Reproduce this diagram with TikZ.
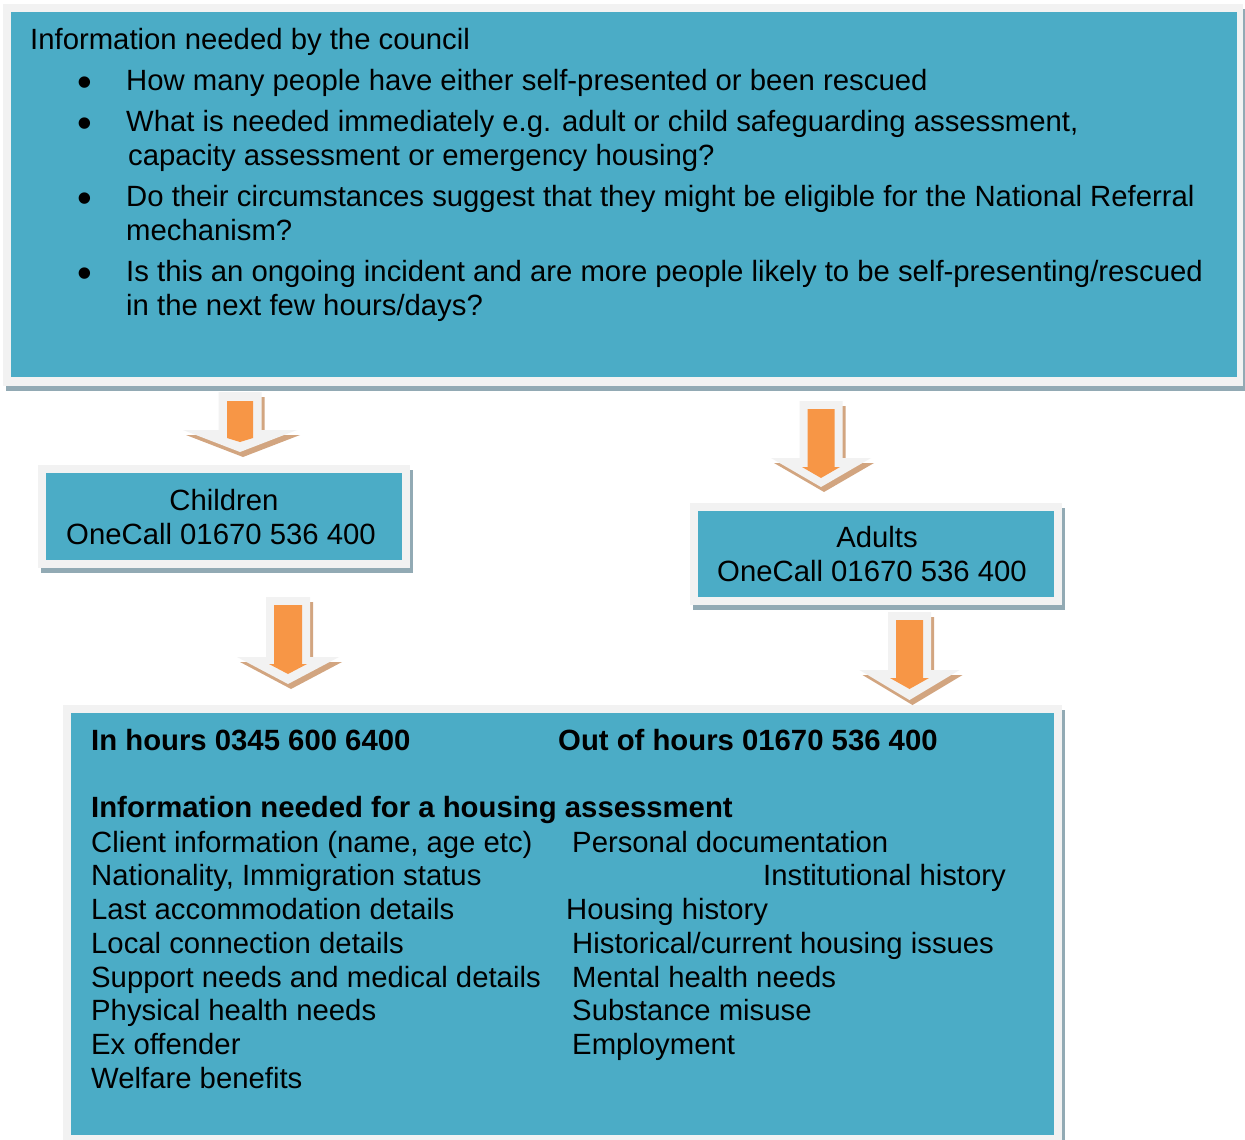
\documentclass[tikz,border=0pt]{standalone}
\usepackage{fontspec}
\setmainfont{Liberation Sans}
\definecolor{panelteal}{RGB}{75,172,198}
\definecolor{framegray}{RGB}{242,242,242}
\definecolor{shadowblue}{RGB}{146,170,180}
\definecolor{arroworange}{RGB}{247,150,70}
\definecolor{arrowtan}{RGB}{210,165,128}
\tikzset{
  txt/.style={anchor=base west, inner sep=0pt, font=\fontsize{29.3}{34}\selectfont},
  bul/.style={anchor=base west, inner sep=0pt, font=\fontsize{42}{42}\selectfont},
  btxt/.style={anchor=base west, inner sep=0pt, font=\fontsize{29.3}{34}\selectfont\bfseries},
  ctxt/.style={anchor=base, inner sep=0pt, font=\fontsize{29.3}{34}\selectfont},
  panel/.style={fill=panelteal, draw=none, inner sep=0pt, anchor=north west},
  boxshadow/.style={fill=shadowblue},
  boxframe/.style={fill=framegray},
  arrshadow/.style={fill=arrowtan},
  arrbody/.style={fill=framegray},
  arrcore/.style={fill=arroworange},
}
\begin{document}
\begin{tikzpicture}[x=1pt,y=-1pt]
\useasboundingbox[fill=white] (0,0) rectangle (1245,1140);

% ---------- top panel ----------
\path[boxshadow] (6,9) rectangle (1245,391);
\path[boxframe] (3,4) rectangle (1243,386);
\node[panel, minimum width=1226pt, minimum height=365pt] (council) at (11,12) {};
\node[txt] (t0) at (30,49) {Information needed by the council};
\node[bul] (b1) at (77.7,96) {•};
\node[txt] (t1) at (126,90) {How many people have either self-presented or been rescued};
\node[bul] (b2) at (77.7,137) {•};
\node[txt] (t2) at (126,131) {What is needed immediately e.g. adult or child safeguarding assessment,};
\node[txt] (t2b) at (128,165) {capacity assessment or emergency housing?};
\node[bul] (b3) at (77.7,212) {•};
\node[txt] (t3) at (126,206) {Do their circumstances suggest that they might be eligible for the National Referral};
\node[txt] (t3b) at (126,240) {mechanism?};
\node[bul] (b4) at (77.7,287) {•};
\node[txt] (t4) at (126,281) {Is this an ongoing incident and are more people likely to be self-presenting/rescued};
\node[txt] (t4b) at (126,315) {in the next few hours/days?};

% ---------- children panel ----------
\path[boxshadow] (41,470) rectangle (413,573);
\path[boxframe] (38,465) rectangle (410,568);
\node[panel, minimum width=356pt, minimum height=87pt] (children) at (46,473) {};
\node[ctxt] (c1) at (224,510) {Children};
\node[ctxt] (c2) at (221,544) {OneCall 01670 536 400};

% ---------- adults panel ----------
\path[boxshadow] (693,508) rectangle (1065,610);
\path[boxframe] (690,503) rectangle (1062,605);
\node[panel, minimum width=356pt, minimum height=86pt] (adults) at (698,511) {};
\node[ctxt] (a1) at (877,547) {Adults};
\node[ctxt] (a2) at (872,581) {OneCall 01670 536 400};

% ---------- housing panel ----------
\path[boxshadow] (66,710) rectangle (1065,1145);
\path[boxframe] (63,705) rectangle (1062,1140);
\node[panel, minimum width=983pt, minimum height=422pt] (housing) at (71,713) {};
\node[btxt] (h1) at (91,750) {In hours 0345 600 6400};
\node[btxt] (h2) at (558,750) {Out of hours 01670 536 400};
\node[btxt] (h3) at (91,817) {Information needed for a housing assessment};
\node[txt] (l1) at (91,852) {Client information (name, age etc)};
\node[txt] (l2) at (91,885) {Nationality, Immigration status};
\node[txt] (l3) at (91,919) {Last accommodation details};
\node[txt] (l4) at (91,953) {Local connection details};
\node[txt] (l5) at (91,987) {Support needs and medical details};
\node[txt] (l6) at (91,1020) {Physical health needs};
\node[txt] (l7) at (91,1054) {Ex offender};
\node[txt] (l8) at (91,1088) {Welfare benefits};
\node[txt] (r1) at (572,852) {Personal documentation};
\node[txt] (r2) at (763,885) {Institutional history};
\node[txt] (r3) at (566,919) {Housing history};
\node[txt] (r4) at (572,953) {Historical/current housing issues};
\node[txt] (r5) at (572,987) {Mental health needs};
\node[txt] (r6) at (572,1020) {Substance misuse};
\node[txt] (r7) at (572,1054) {Employment};

% ---------- block arrows ----------
% A: council -> children
\begin{scope}[shift={(240,392)}]
  \path[arrshadow] (-18.5,5) -- (24.5,5) -- (24.5,43) -- (60,43) -- (3,65) -- (-54,43) -- (-18.5,43) -- cycle;
  \path[arrbody] (-21.5,0) -- (21.5,0) -- (21.5,38) -- (57,38) -- (0,60) -- (-57,38) -- (-21.5,38) -- cycle;
  \path[arrcore] (-13,9) -- (13,9) -- (13,46) -- (0,50) -- (-13,46) -- cycle;
\end{scope}
% B: council -> adults
\begin{scope}[shift={(821,401)}]
  \path[arrshadow] (-18.5,5) -- (24.5,5) -- (24.5,62) -- (53,62) -- (3,91) -- (-47,62) -- (-18.5,62) -- cycle;
  \path[arrbody] (-21.5,0) -- (21.5,0) -- (21.5,57) -- (50,57) -- (0,86) -- (-50,57) -- (-21.5,57) -- cycle;
  \path[arrcore] (-13.5,8) -- (13.5,8) -- (13.5,66) -- (19,66) -- (0,77) -- (-19,66) -- (-13.5,66) -- cycle;
\end{scope}
% C: children -> housing
\begin{scope}[shift={(288,597)}]
  \path[arrshadow] (-19,5) -- (25,5) -- (25,65) -- (54,65) -- (3,92) -- (-48,65) -- (-19,65) -- cycle;
  \path[arrbody] (-22,0) -- (22,0) -- (22,60) -- (51,60) -- (0,87) -- (-51,60) -- (-22,60) -- cycle;
  \path[arrcore] (-14,8) -- (14,8) -- (14,67) -- (19,67) -- (0,77) -- (-19,67) -- (-14,67) -- cycle;
\end{scope}
% D: adults -> housing
\begin{scope}[shift={(909.5,612)}]
  \path[arrshadow] (-18.5,5) -- (24.5,5) -- (24.5,63) -- (53,63) -- (3,93) -- (-47,63) -- (-18.5,63) -- cycle;
  \path[arrbody] (-21.5,0) -- (21.5,0) -- (21.5,58) -- (50,58) -- (0,88) -- (-50,58) -- (-21.5,58) -- cycle;
  \path[arrcore] (-13.5,8) -- (13.5,8) -- (13.5,66) -- (19.5,66) -- (0,77) -- (-19.5,66) -- (-13.5,66) -- cycle;
\end{scope}
\end{tikzpicture}
\end{document}
